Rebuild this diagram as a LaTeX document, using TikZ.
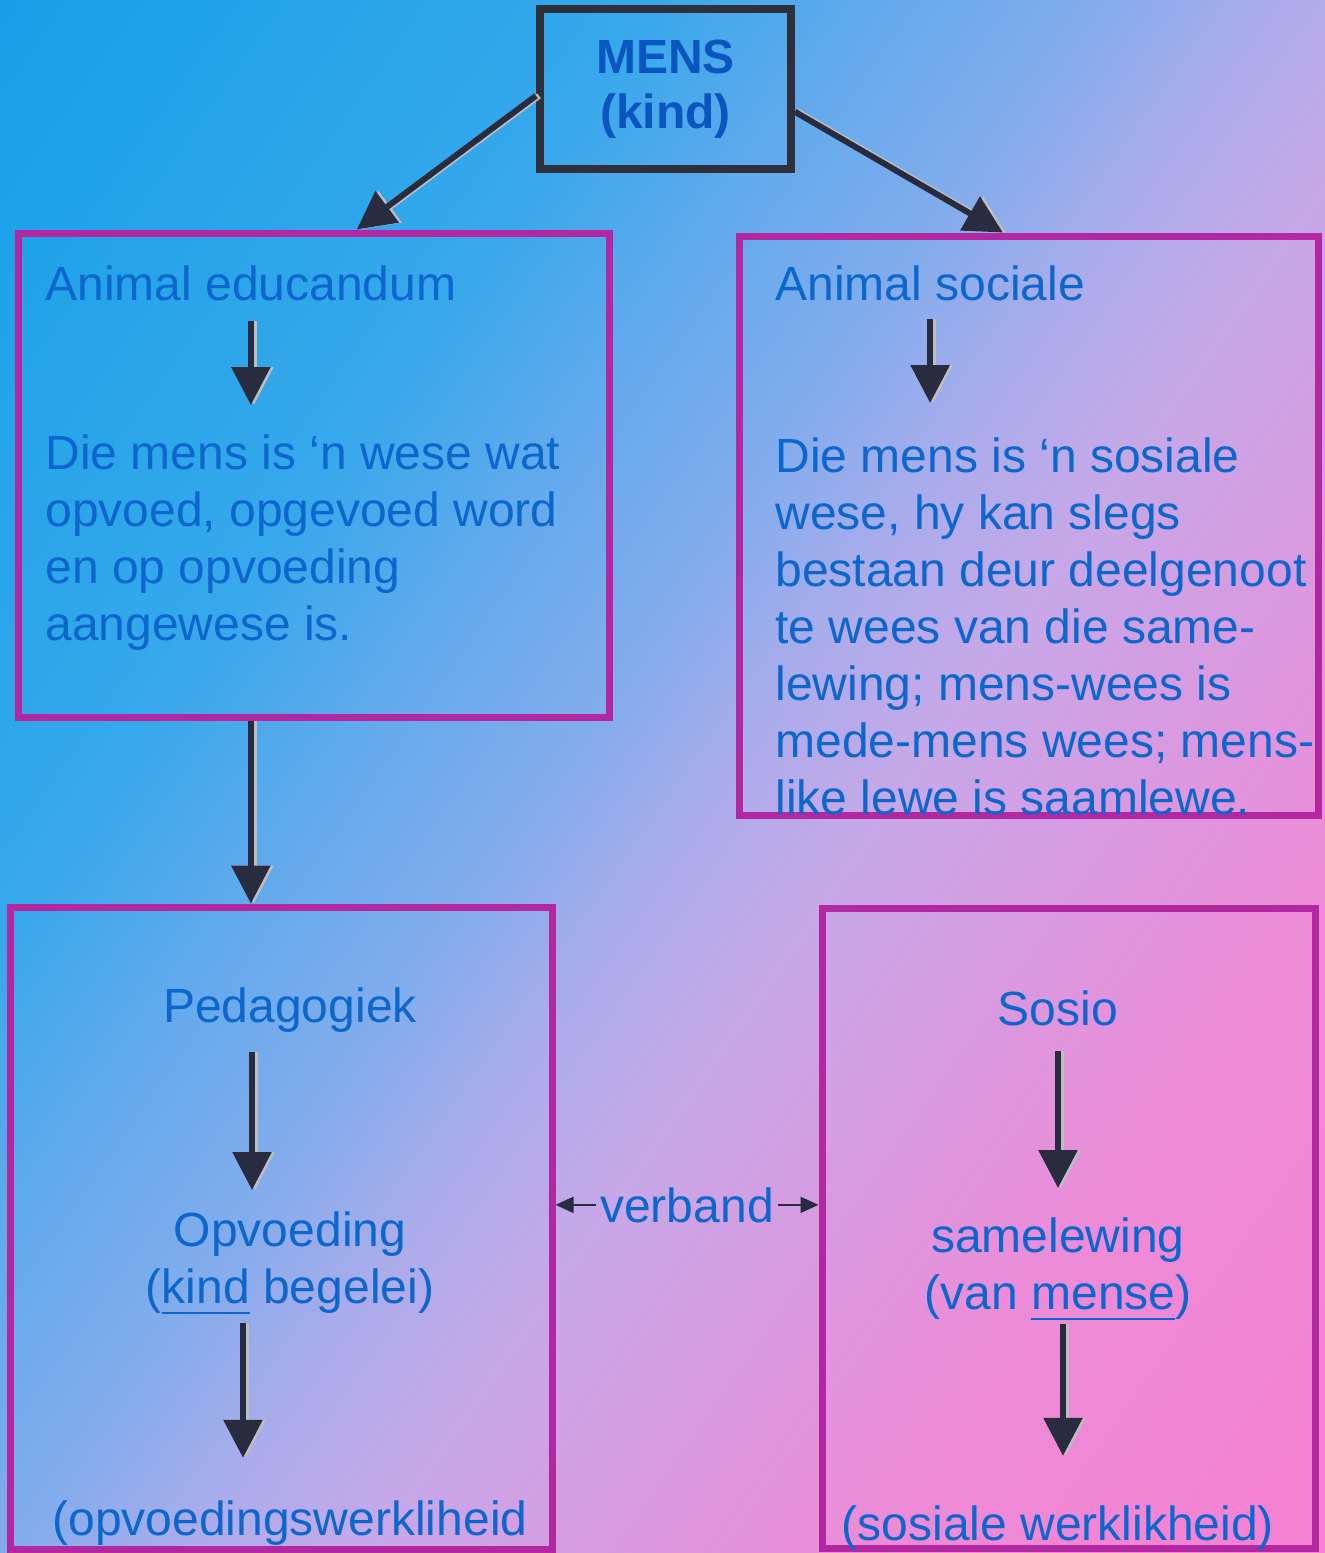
\documentclass[tikz,border=0pt]{standalone}
\usepackage{fontspec}
\setmainfont{Liberation Sans}
\usetikzlibrary{arrows.meta}

\definecolor{bgA}{RGB}{22,160,232}
\definecolor{bgB}{RGB}{55,168,235}
\definecolor{bgC}{RGB}{95,170,236}
\definecolor{bgD}{RGB}{132,172,236}
\definecolor{bgE}{RGB}{172,172,235}
\definecolor{bgF}{RGB}{198,168,232}
\definecolor{bgG}{RGB}{236,140,215}
\definecolor{bgH}{RGB}{246,128,210}
\definecolor{txtblue}{RGB}{12,102,204}
\definecolor{mensblue}{RGB}{10,85,190}
\definecolor{boxmag}{RGB}{178,40,160}
\definecolor{boxdark}{RGB}{48,48,60}
\definecolor{arrdark}{RGB}{40,44,62}
\definecolor{arrshade}{RGB}{190,190,192}

\pgfdeclarehorizontalshading{bgshade}{100bp}{color(0bp)=(bgA); color(15bp)=(bgA); color(34bp)=(bgB); color(40bp)=(bgC); color(47bp)=(bgD); color(52bp)=(bgE); color(57bp)=(bgF); color(71bp)=(bgG); color(85bp)=(bgH); color(100bp)=(bgH)}

\newcommand{\onder}[1]{\sbox0{#1}\rlap{\rule[-5.5pt]{\wd0}{1.2pt}}\usebox0}

\tikzset{
  txt/.style={text=txtblue, inner sep=0pt, font=\fontsize{24}{28.5}\selectfont},
  frame/.style={draw=boxmag, line width=3.5pt, inner sep=0pt},
  arr/.style={draw=arrdark, line width=3pt, -{Triangle[length=19pt,width=19pt]}},
  thinarr/.style={draw=arrdark, line width=1pt, -{Triangle[length=9pt,width=8pt]}}
}

\begin{document}
\begin{tikzpicture}[x=0.5pt, y=-0.5pt]
\useasboundingbox (0,0) rectangle (1325,1553);
\shade[shading=bgshade, shading angle=-35] (0,0) rectangle (1325,1553);

\node[draw=boxdark, line width=4pt, minimum width=125.5pt, minimum height=80pt, text=mensblue, align=center, font=\fontsize{24}{27.5}\selectfont\bfseries] (mens) at (665.5,89) {MENS\\(kind)};

\node[frame, minimum width=295.5pt, minimum height=242pt] (edubox) at (313.5,475) {};
\node[frame, minimum width=289.5pt, minimum height=289.5pt] (socbox) at (1028.5,525.5) {};
\node[frame, minimum width=271pt, minimum height=321pt] (pedabox) at (281,1228) {};
\node[frame, minimum width=246.5pt, minimum height=320pt] (sosbox) at (1068.5,1228) {};

\node[txt, anchor=base west] (edutitle) at (45,300) {Animal educandum};
\node[txt, anchor=north west, align=left] (edutext) at (45,434) {Die mens is ‘n wese wat\\opvoed, opgevoed word\\en op opvoeding\\aangewese is.};

\node[txt, anchor=base west] (soctitle) at (775,300) {Animal sociale};
\node[txt, anchor=north west, align=left] (soctext) at (775,437) {Die mens is ‘n sosiale\\wese, hy kan slegs\\bestaan deur deelgenoot\\te wees van die same-\\lewing; mens-wees is\\mede-mens wees; mens-\\like lewe is saamlewe.};

\node[txt, anchor=base] (peda) at (290,1022) {Pedagogiek};
\node[txt, anchor=north, align=center] (opv) at (290,1211) {Opvoeding\\(\onder{kind} begelei)};
\node[txt, anchor=base] (werk) at (290,1535) {(opvoedingswerkliheid};

\node[txt, anchor=base] (sosio) at (1058,1025) {Sosio};
\node[txt, anchor=north, align=center] (sam) at (1058,1217) {samelewing\\(van \onder{mense})};
\node[txt, anchor=base] (sws) at (1058,1540) {(sosiale werklikheid)};

\node[txt, anchor=base, inner sep=2pt] (verband) at (687,1222) {verband};

\foreach \kleur/\dx in {arrshade/1.5pt, arrdark/0pt} {
\begin{scope}[transform canvas={xshift=\dx}, arr/.append style={draw=\kleur}]
\draw[arr] (mens.183) -- (edubox.80);
\draw[arr] (mens.-10) -- (socbox.95);
\draw[arr, shorten <=10pt, shorten >=14.5pt] (edutitle.south) -- (edutitle.south |- edutext.north);
\draw[arr, shorten <=9pt, shorten >=17pt] (soctitle.south) -- (soctitle.south |- soctext.north);
\draw[arr] (edubox.south -| edutitle.south) -- (pedabox.north -| edutitle.south);
\draw[arr, shorten <=10pt, shorten >=10.5pt] ([xshift=-19pt]peda.south) -- ([xshift=-19pt]opv.north);
\draw[arr, shorten <=4pt, shorten >=21pt] ([xshift=-23.5pt]opv.south) -- ([xshift=-23.5pt]werk.north);
\draw[arr, shorten <=12.5pt, shorten >=14.5pt] (sosio.south) -- (sosio.south |- sam.north);
\draw[arr, shorten <=1.5pt, shorten >=24.5pt] ([xshift=2.5pt]sam.south) -- ([xshift=2.5pt]sws.north);
\end{scope}
}
\draw[thinarr] (verband.west) -- (verband.west -| pedabox.east);
\draw[thinarr] (verband.east) -- (verband.east -| sosbox.west);
\end{tikzpicture}
\end{document}
